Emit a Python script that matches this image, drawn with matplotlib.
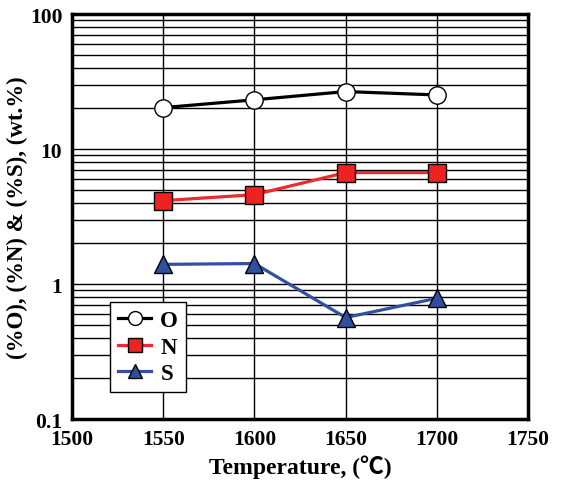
import matplotlib
matplotlib.use('Agg')
import matplotlib.pyplot as plt
from matplotlib.ticker import LogLocator, FixedLocator, FuncFormatter

plt.rcParams['font.family'] = ['Liberation Serif', 'Noto Sans CJK JP', 'DejaVu Sans']
plt.rcParams['font.weight'] = 'bold'

temps = [1550, 1600, 1650, 1700]
o_vals = [20.3, 23.2, 26.7, 25.2]
n_vals = [4.15, 4.6, 6.7, 6.7]
s_vals = [1.40, 1.42, 0.565, 0.785]

fig = plt.figure(figsize=(5.63, 4.89), dpi=100)
ax = fig.add_axes([0.128, 0.141, 0.81, 0.828])

ax.plot(temps, o_vals, '-o', color='black', lw=2.3, ms=12.5, mfc='white', mec='black', mew=1, label='O', zorder=5)
ax.plot(temps, n_vals, '-s', color='#ee2a2a', lw=2.3, ms=12.5, mfc='#ee2222', mec='black', mew=1, label='N', zorder=5)
ax.plot(temps, s_vals, '-^', color='#3050a0', lw=2.3, ms=12.5, mfc='#2f4f9f', mec='black', mew=1, label='S', zorder=5)

ax.set_yscale('log')
ax.set_ylim(0.1, 100)
ax.set_xlim(1500, 1750)
ax.xaxis.set_major_locator(FixedLocator([1500, 1550, 1600, 1650, 1700, 1750]))
ax.yaxis.set_major_locator(LogLocator(base=10, numticks=10))
ax.yaxis.set_minor_locator(LogLocator(base=10, subs=range(2, 10), numticks=20))
ax.yaxis.set_major_formatter(FuncFormatter(lambda v, p: '%g' % v))
ax.yaxis.set_minor_formatter(FuncFormatter(lambda v, p: ''))

ax.grid(True, which='both', axis='y', color='black', lw=1)
ax.grid(True, which='major', axis='x', color='black', lw=1)
ax.tick_params(which='both', length=0, labelsize=15.5, pad=7)
for sp in ax.spines.values():
    sp.set_linewidth(2.5)

ax.set_xlabel('Temperature, (℃)', fontsize=17, fontweight='bold', labelpad=4)
ax.set_ylabel('(%O), (%N) & (%S), (wt.%)', fontsize=16.5, fontweight='bold', labelpad=1)

leg = ax.legend(loc='lower left', bbox_to_anchor=(0.083, 0.066), fontsize=16.5, frameon=True,
                fancybox=False, handlelength=1.45, borderpad=0.35, labelspacing=0.25,
                handletextpad=0.4, markerscale=0.8, borderaxespad=0)
leg.get_frame().set_edgecolor('black')
leg.get_frame().set_linewidth(1)
leg.get_frame().set_alpha(1)
leg.set_zorder(10)

fig.savefig('out.png', dpi=100)
